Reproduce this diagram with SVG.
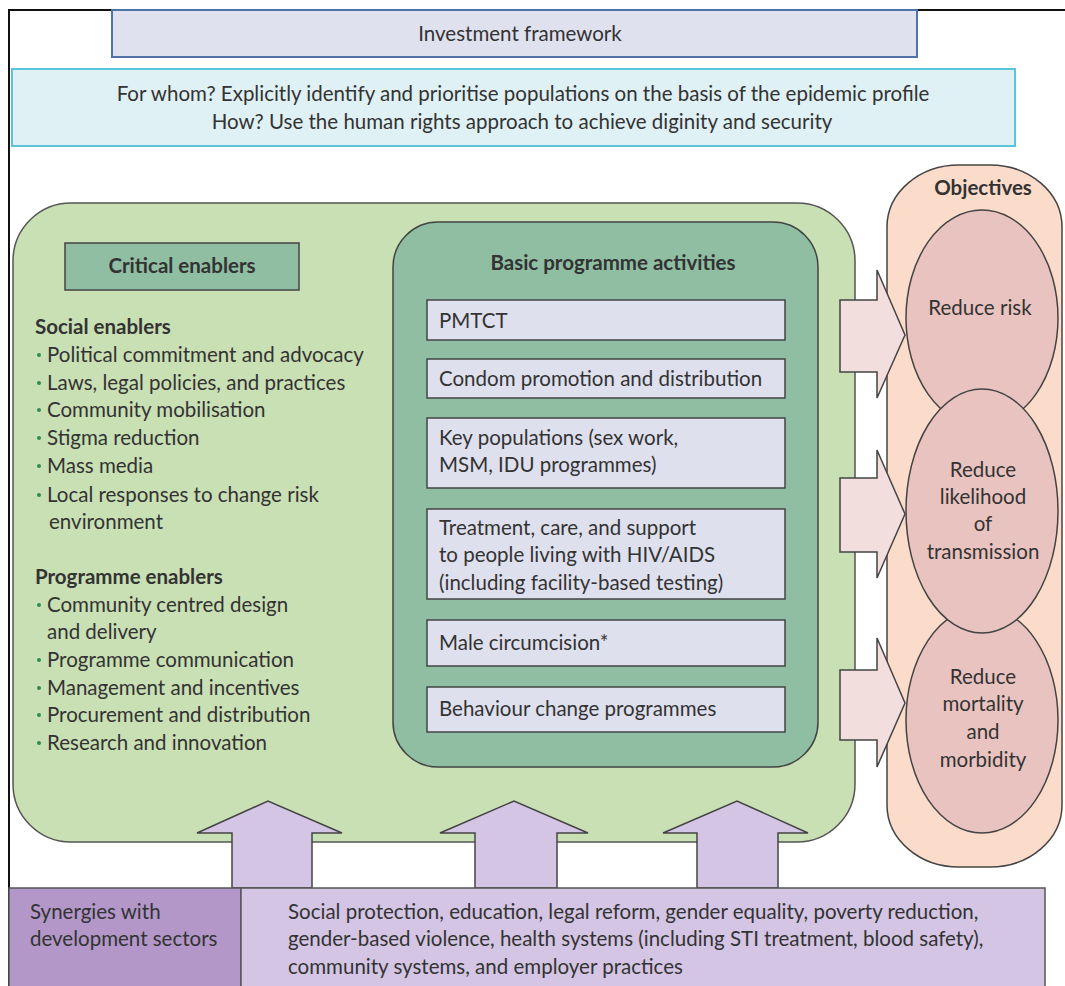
<svg xmlns="http://www.w3.org/2000/svg" width="1065" height="986" viewBox="0 0 1065 986">
<style>
text{font-family:Lato,"Open Sans","Liberation Sans",sans-serif;font-size:20.5px;fill:#333}
.b{font-weight:bold}
.m{text-anchor:middle}
.g{fill:#2f8a4e;font-size:16px}
.box{fill:#dfe0ee;stroke:#444;stroke-width:1.5}
.ua{fill:#d3c5e3;stroke:#444;stroke-width:1.5}
.ra{fill:#f3dede;stroke:#444;stroke-width:1.5}
.el{fill:#e9c3bf;stroke:#444;stroke-width:1.5}
</style>
<defs>
<symbol id="dot" overflow="visible"><circle cx="0" cy="0" r="2" fill="#2f8a4e"/></symbol>
</defs>
<rect width="1065" height="986" fill="#fff"/>
<path d="M9 986V10H1065" fill="none" stroke="#111" stroke-width="2"/>
<g id="investment">
<rect x="112" y="10" width="805" height="47" fill="#dfe1ef" stroke="#4f73a8" stroke-width="2"/>
<text x="520" y="41" class="m">Investment framework</text>
</g>
<g id="forwhom">
<rect x="12" y="69" width="1003" height="77" fill="#dff1f5" stroke="#5bc3dc" stroke-width="2"/>
<text x="523" y="101" class="m">For whom? Explicitly identify and prioritise populations on the basis of the epidemic profile</text>
<text x="522" y="129" class="m">How? Use the human rights approach to achieve diginity and security</text>
</g>
<g id="enablers">
<rect x="13" y="203" width="842" height="639" rx="58" fill="#c9dfb4" stroke="#555" stroke-width="1.5"/>
<rect x="65" y="243" width="234" height="47" fill="#8fbea3" stroke="#444" stroke-width="1.5"/>
<text x="182" y="273" class="m b">Critical enablers</text>
<text x="35" y="334" class="b">Social enablers</text>
<use href="#dot" x="39" y="355"/><text x="47" y="362">Political commitment and advocacy</text>
<use href="#dot" x="39" y="383"/><text x="47" y="390">Laws, legal policies, and practices</text>
<use href="#dot" x="39" y="410"/><text x="47" y="417">Community mobilisation</text>
<use href="#dot" x="39" y="438"/><text x="47" y="445">Stigma reduction</text>
<use href="#dot" x="39" y="466"/><text x="47" y="473">Mass media</text>
<use href="#dot" x="39" y="495"/><text x="47" y="502">Local responses to change risk</text>
<text x="49" y="529">environment</text>
<text x="35" y="584" class="b">Programme enablers</text>
<use href="#dot" x="39" y="605"/><text x="47" y="612">Community centred design</text>
<text x="47" y="639">and delivery</text>
<use href="#dot" x="39" y="660"/><text x="47" y="667">Programme communication</text>
<use href="#dot" x="39" y="688"/><text x="47" y="695">Management and incentives</text>
<use href="#dot" x="39" y="715"/><text x="47" y="722">Procurement and distribution</text>
<use href="#dot" x="39" y="743"/><text x="47" y="750">Research and innovation</text>
</g>
<g id="basic">
<rect x="393" y="222" width="425" height="545" rx="45" fill="#8fbea3" stroke="#444" stroke-width="1.5"/>
<text x="613" y="270" class="m b">Basic programme activities</text>
<rect class="box" x="427" y="300" width="358" height="40"/>
<text x="439" y="328">PMTCT</text>
<rect class="box" x="427" y="359" width="358" height="39"/>
<text x="439" y="386">Condom promotion and distribution</text>
<rect class="box" x="427" y="418" width="358" height="70"/>
<text x="439" y="445">Key populations (sex work,</text>
<text x="439" y="472">MSM, IDU programmes)</text>
<rect class="box" x="427" y="509" width="358" height="90"/>
<text x="439" y="535">Treatment, care, and support</text>
<text x="439" y="562">to people living with HIV/AIDS</text>
<text x="439" y="590">(including facility-based testing)</text>
<rect class="box" x="427" y="620" width="358" height="46"/>
<text x="439" y="650">Male circumcision*</text>
<rect class="box" x="427" y="687" width="358" height="45"/>
<text x="439" y="716">Behaviour change programmes</text>
</g>
<g id="objectives">
<rect x="887" y="165" width="175" height="702" rx="72" ry="62" fill="#fbdcca" stroke="#444" stroke-width="1.5"/>
<text x="983" y="195" class="m b">Objectives</text>
</g>
<g id="connectors">
<polygon class="ra" points="840,300 877,300 877,270 905,335 877,398 877,372 840,372"/>
<polygon class="ra" points="840,478 877,478 877,450 905,514 877,578 877,552 840,552"/>
<polygon class="ra" points="840,670 877,670 877,638 905,703 877,767 877,740 840,740"/>
<polygon class="ua" points="232,888 232,833 197,833 268,801 342,833 312,833 312,888"/>
<polygon class="ua" points="475,888 475,833 440,833 514,801 588,833 557,833 557,888"/>
<polygon class="ua" points="697,888 697,833 663,833 737,801 808,833 778,833 778,888"/>
</g>
<g id="reduce-risk">
<ellipse class="el" cx="982" cy="318" rx="76" ry="108"/>
<text x="980" y="315" class="m">Reduce risk</text>
</g>
<g id="reduce-mortality">
<ellipse class="el" cx="982" cy="720" rx="76" ry="113"/>
<text x="983" y="684" class="m">Reduce</text>
<text x="983" y="711" class="m">mortality</text>
<text x="983" y="739" class="m">and</text>
<text x="983" y="767" class="m">morbidity</text>
</g>
<g id="reduce-likelihood">
<ellipse class="el" cx="982" cy="511" rx="76" ry="122"/>
<text x="983" y="477" class="m">Reduce</text>
<text x="983" y="504" class="m">likelihood</text>
<text x="983" y="531" class="m">of</text>
<text x="983" y="559" class="m">transmission</text>
</g>
<g id="synergies">
<rect x="9" y="888" width="232" height="102" fill="#b297c8" stroke="#555" stroke-width="1.5"/>
<text x="30" y="919">Synergies with</text>
<text x="30" y="946">development sectors</text>
</g>
<g id="sectors">
<rect x="241" y="888" width="804" height="102" fill="#d3c5e3" stroke="#555" stroke-width="1.5"/>
<text x="288" y="919">Social protection, education, legal reform, gender equality, poverty reduction,</text>
<text x="288" y="946">gender-based violence, health systems (including STI treatment, blood safety),</text>
<text x="288" y="974">community systems, and employer practices</text>
</g>
</svg>
